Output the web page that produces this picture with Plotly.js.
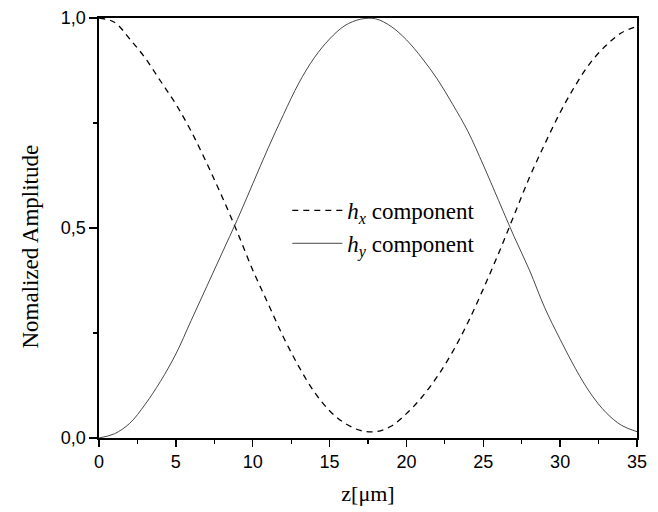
<!DOCTYPE html>
<html>
<head>
<meta charset="utf-8">
<script src="https://cdn.plot.ly/plotly-3.0.1.min.js"></script>
<style>html,body{margin:0;padding:0;background:#fff;}#chart{width:658px;height:512px;}</style>
</head>
<body>
<div id="chart"></div>
<script>
const zValues = [0,1,2,3,4,5,6,7,8,9,10,11,12,13,14,15,16,17,18,19,20,21,22,23,24,25,26,27,28,29,30,31,32,33,34,35];
const hxValues = [1.0,0.99,0.95,0.905,0.85,0.795,0.73,0.655,0.575,0.49,0.40,0.32,0.24,0.17,0.11,0.065,0.035,0.018,0.015,0.028,0.058,0.097,0.146,0.205,0.275,0.355,0.44,0.53,0.62,0.70,0.775,0.84,0.895,0.935,0.965,0.98];
const hyValues = [0.0,0.01,0.035,0.08,0.135,0.20,0.28,0.36,0.44,0.52,0.605,0.69,0.77,0.845,0.905,0.95,0.982,0.997,0.998,0.98,0.948,0.905,0.855,0.795,0.73,0.65,0.565,0.48,0.40,0.31,0.235,0.165,0.105,0.06,0.03,0.015];
const seriesNames = ['<i>h</i><sub><i>x</i></sub> component', '<i>h</i><sub><i>y</i></sub> component'];
const xTickVals = [0,5,10,15,20,25,30,35];
const yTickVals = [0,0.5,1];
const yTickText = ['0,0','0,5','1,0'];
const xTitle = 'z[μm]';
const yTitle = 'Nomalized Amplitude';

const serif = 'Liberation Serif, Times New Roman, serif';
const sans = 'Liberation Sans, Arial, sans-serif';

const traces = [
  {x: zValues, y: hxValues, name: seriesNames[0], mode: 'lines', line: {color: '#000', width: 1.3, dash: '6px,5px', shape: 'spline'}},
  {x: zValues, y: hyValues, name: seriesNames[1], mode: 'lines', line: {color: '#333', width: 0.9, shape: 'spline'}}
];

const layout = {
  width: 658, height: 512,
  margin: {l: 99, r: 21, t: 18, b: 74},
  paper_bgcolor: '#fff', plot_bgcolor: '#fff',
  separators: ',.',
  showlegend: true,
  legend: {x: 0.35, y: 0.593, xanchor: 'left', yanchor: 'top', bgcolor: 'rgba(0,0,0,0)',
           font: {family: serif, size: 23, color: '#000'},
           itemwidth: 50},
  xaxis: {range: [0, 35], tickvals: xTickVals, ticks: 'outside', ticklen: 7, tickwidth: 1.5, tickcolor: '#000',
          minor: {dtick: 2.5, ticks: 'outside', ticklen: 4, tickwidth: 1.2, tickcolor: '#000'},
          showline: true, linecolor: '#000', linewidth: 1.6, mirror: true, showgrid: false, zeroline: false,
          tickfont: {family: sans, size: 18, color: '#000'},
          title: {text: xTitle, font: {family: serif, size: 22, color: '#000'}, standoff: 14}},
  yaxis: {range: [0, 1], tickvals: yTickVals, ticktext: yTickText, ticks: 'outside', ticklen: 8, tickwidth: 1.5, tickcolor: '#000',
          minor: {tickvals: [0.25, 0.75], ticks: 'outside', ticklen: 4, tickwidth: 1.2, tickcolor: '#000'},
          showline: true, linecolor: '#000', linewidth: 1.6, mirror: true, showgrid: false, zeroline: false,
          tickfont: {family: sans, size: 18, color: '#000'},
          title: {text: ''}},
  annotations: [
    {text: yTitle, xref: 'paper', yref: 'paper', x: -0.127, y: 0.455, xanchor: 'center', yanchor: 'middle',
     textangle: -90, showarrow: false, font: {family: serif, size: 23, color: '#000'}}
  ]
};

Plotly.newPlot('chart', traces, layout, {displayModeBar: false, staticPlot: true});
</script>
</body>
</html>
